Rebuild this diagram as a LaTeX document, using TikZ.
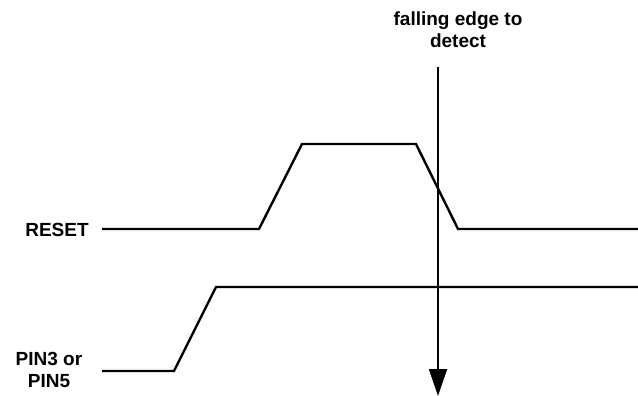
\documentclass[tikz,border=0pt]{standalone}
\usepackage{fontspec}
\setmainfont{Liberation Sans}
\usetikzlibrary{arrows.meta}
\begin{document}
\begin{tikzpicture}[x=1pt,y=-1pt,
  lbl/.style={font=\fontsize{19}{22}\selectfont\bfseries, align=center, inner sep=0pt},
  sig/.style={line width=2.4pt, line join=miter},
  marker/.style={line width=1.8pt, -{Triangle[width=18pt,length=27pt]}}]
\useasboundingbox (0,0) rectangle (638,396);
% labels
\node[lbl, anchor=north] (fall) at (458,12) {falling edge to\\detect};
\node[lbl] (reset) at (57,230) {RESET};
\node[lbl] (pin) at (49,370) {PIN3 or\\PIN5};
% RESET waveform
\coordinate (r0) at (102,229);
\coordinate (r1) at (259,229);
\coordinate (r2) at (302,144);
\coordinate (r3) at (416,144);
\coordinate (r4) at (458,229);
\coordinate (r5) at (638,229);
\draw[sig] (r0) -- (r1) -- (r2) -- (r3) -- (r4) -- (r5);
% PIN waveform
\coordinate (p0) at (102,371);
\coordinate (p1) at (174,371);
\coordinate (p2) at (216,287);
\coordinate (p3) at (638,287);
\draw[sig] (p0) -- (p1) -- (p2) -- (p3);
% marker arrow
\coordinate (a0) at (438,67);
\coordinate (a1) at (438,396);
\draw[marker] (a0) -- (a1);
\end{tikzpicture}
\end{document}
